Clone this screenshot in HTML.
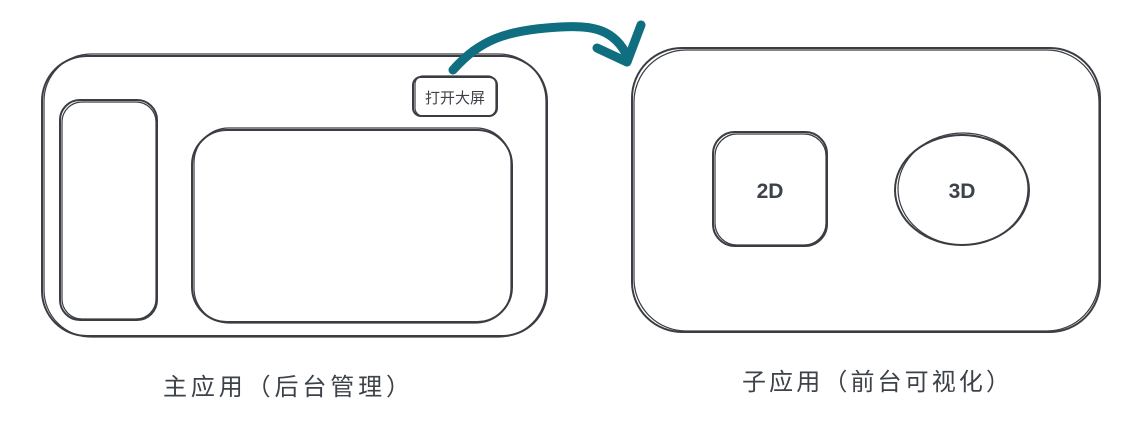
<!DOCTYPE html>
<html><head><meta charset="utf-8"><style>
body{margin:0;background:#fff;width:1138px;height:426px;overflow:hidden}
svg{display:block}
text{font-family:"Liberation Sans","Noto Sans CJK SC",sans-serif;fill:#3d4249}
</style></head><body>
<svg width="1138" height="426" viewBox="0 0 1138 426">
<g fill="none" stroke="#3a3d42" stroke-width="2">
<rect x="42" y="56" width="505" height="280" rx="45"/>
<rect x="44" y="54" width="502" height="283" rx="47" stroke-width="1.2"/>
<rect x="60" y="100" width="97" height="220" rx="20"/>
<rect x="62" y="102" width="94" height="217" rx="20" stroke-width="1.2"/>
<rect x="192" y="130" width="320" height="192" rx="35"/>
<rect x="194" y="128" width="317" height="195" rx="35" stroke-width="1.2"/>
<rect x="413" y="77" width="84" height="39" rx="8" fill="#fff"/>
<rect x="415" y="76" width="81" height="40" rx="8" stroke-width="1.2"/>
<rect x="632" y="48" width="468" height="284" rx="50"/>
<rect x="634" y="50" width="465" height="281" rx="52" stroke-width="1.2"/>
<rect x="713" y="132" width="114" height="114" rx="22"/>
<rect x="715" y="134" width="111" height="111" rx="22" stroke-width="1.2"/>
<ellipse cx="962" cy="190" rx="67" ry="55"/>
<ellipse cx="963" cy="189" rx="65" ry="56" stroke-width="1.2"/>
</g>
<g fill="none" stroke="#0f6e80" stroke-width="9" stroke-linecap="round" stroke-linejoin="round">
<path d="M453 70 C 480 40, 505 30, 560 27 C 590 25, 615 28, 628 58"/>
<path d="M597 48 L 627 62 L 641 25"/>
</g>
<text x="455" y="103" font-size="15" text-anchor="middle">打开大屏</text>
<text x="770" y="198" font-size="21" text-anchor="middle" font-weight="bold" fill="#3d4249">2D</text>
<text x="962" y="198" font-size="21" text-anchor="middle" font-weight="bold">3D</text>
<text x="163" y="395" font-size="24" textLength="247" lengthAdjust="spacing">主应用（后台管理）</text>
<text x="742" y="390" font-size="24" textLength="268" lengthAdjust="spacing">子应用（前台可视化）</text>
</svg>
</body></html>
